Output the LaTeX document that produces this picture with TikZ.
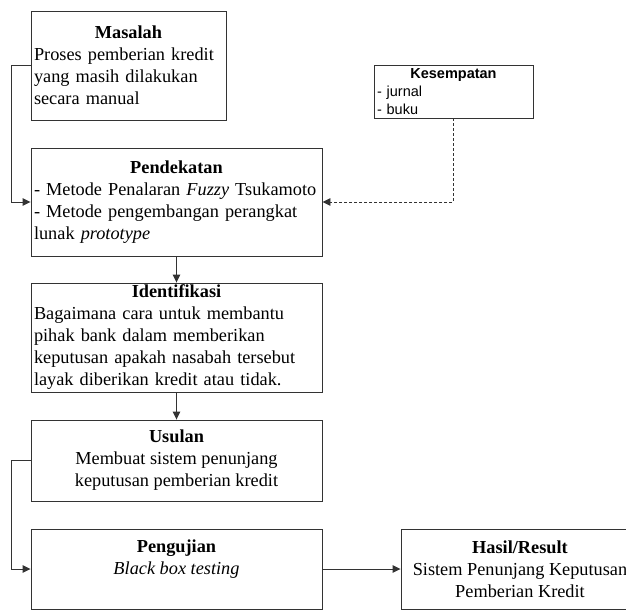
\documentclass[tikz,border=0pt]{standalone}
\usepackage{fontspec}
\setmainfont{Liberation Serif}
\newfontfamily\arialfont{Liberation Sans}
\usetikzlibrary{arrows.meta}
\newcommand{\boxtitle}[1]{\makebox[\linewidth][c]{\textbf{#1}}}
\begin{document}
\begin{tikzpicture}[x=1pt,y=-1pt,
  box/.style={draw=black!80, line width=0.9pt, fill=white, inner xsep=3pt, inner ysep=0pt,
    font=\fontsize{18.3}{22}\selectfont},
  conn/.style={draw=black!80, line width=0.9pt, -{Triangle[length=8pt,width=7.5pt]}},
  dconn/.style={conn, dash pattern=on 3pt off 2pt}]
\useasboundingbox (0,0) rectangle (626,610);

\node[box, minimum width=195, minimum height=109, text width=189, align=left] (mas) at (128.5,65.5)
  {\boxtitle{Masalah}\\\mbox{Proses pemberian kredit}\\\mbox{yang masih dilakukan}\\secara manual};

\node[box, minimum width=291, minimum height=108, text width=285, align=left] (pend) at (176.5,202)
  {\boxtitle{Pendekatan}\\\mbox{- Metode Penalaran \textit{Fuzzy} Tsukamoto}\\\mbox{- Metode pengembangan perangkat}\\lunak \textit{prototype}};

\node[box, minimum width=159, minimum height=53, text width=153, align=left, inner ysep=0pt,
  font=\arialfont\fontsize{14.5}{17.8}\selectfont] (kes) at (453.5,91.5)
  {\boxtitle{Kesempatan}\\- jurnal\\- buku};

\node[box, minimum width=291, minimum height=109, text width=285, align=left] (iden) at (176.5,337.5)
  {\boxtitle{Identifikasi}\\\mbox{Bagaimana cara untuk membantu}\\\mbox{pihak bank dalam memberikan}\\\mbox{keputusan apakah nasabah tersebut}\\\mbox{layak diberikan kredit atau tidak.}};

\node[box, minimum width=291, minimum height=81, align=center] (usul) at (176.5,460.5)
  {\textbf{Usulan}\\Membuat sistem penunjang\\keputusan pemberian kredit};

\node[box, minimum width=291, minimum height=80, align=center] (peng) at (176.5,569)
  {\textbf{Pengujian}\\\textit{Black box testing}\\[2pt]\mbox{}};

\node[box, minimum width=238, minimum height=80, align=center] (has) at (520,569)
  {\textbf{Hasil/Result}\\Sistem Penunjang Keputusan\\Pemberian Kredit};

\draw[conn] (mas.west) -- ++(-19,0) |- (pend.west);
\draw[dconn] (kes.south) |- (pend.east);
\draw[conn] (pend.south) -- (iden.north);
\draw[conn] (iden.south) -- (usul.north);
\draw[conn] (usul.west) -- ++(-19,0) |- (peng.west);
\draw[conn] (peng.east) -- (has.west);
\end{tikzpicture}
\end{document}
